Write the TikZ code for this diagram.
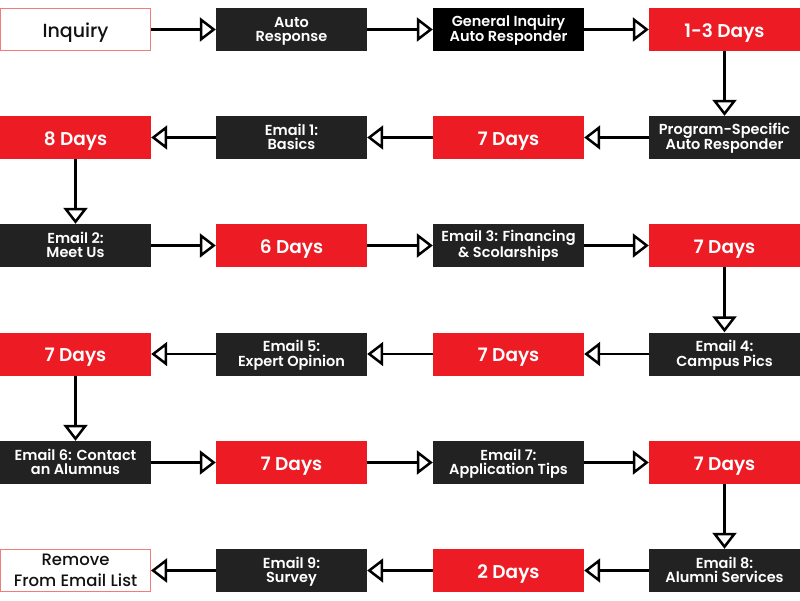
\documentclass[tikz,border=0pt]{standalone}
\usepackage{fontspec}
\setmainfont{Poppins}[BoldFont={Poppins SemiBold}]
\newfontfamily\medfont{Poppins Medium}
\usetikzlibrary{arrows.meta}
\definecolor{dk}{HTML}{222222}
\definecolor{rd}{HTML}{ED1C24}
\definecolor{pk}{HTML}{F27C7C}
\definecolor{tx}{HTML}{111111}
\begin{document}
\begin{tikzpicture}[x=1pt,y=-1pt,
  box/.style={minimum width=151pt, minimum height=43pt, inner sep=0pt, align=center, text=white,
    font=\bfseries\fontsize{14.5}{14.3}\selectfont, text height=24.4pt, text depth=0pt},
  darkbox/.style={box, fill=dk},
  blackbox/.style={box, fill=black},
  redbox/.style={box, fill=rd, font=\bfseries\fontsize{18.5}{20}\selectfont, text height=15pt},
  whitebox/.style={box, minimum width=150pt, minimum height=42pt, draw=pk, line width=1pt, fill=white, text=tx},
  flow/.style={line width=2.5pt, -{Triangle[open, length=16pt, width=24pt]}}]
\useasboundingbox (0,0) rectangle (800,600);
% row 1
\node[whitebox, font=\medfont\fontsize{19}{20}\selectfont, text height=15.8pt] (in) at (75.5,29.5) {Inquiry};
\node[darkbox] (ar) at (291.5,29.5) {Auto\\Response};
\node[blackbox] (gi) at (508.5,29.5) {General Inquiry\\Auto Responder};
\node[redbox] (d1) at (724.5,29.5) {1-3 Days};
% row 2
\node[darkbox] (ps) at (724.5,137.5) {Program-Specific\\Auto Responder};
\node[redbox] (d2) at (508.5,137.5) {7 Days};
\node[darkbox] (e1) at (291.5,137.5) {Email 1:\\Basics};
\node[redbox] (d3) at (75.5,137.5) {8 Days};
% row 3
\node[darkbox] (e2) at (75.5,245.5) {Email 2:\\Meet Us};
\node[redbox] (d4) at (291.5,245.5) {6 Days};
\node[darkbox] (e3) at (508.5,245.5) {Email 3: Financing\\\& Scolarships};
\node[redbox] (d5) at (724.5,245.5) {7 Days};
% row 4
\node[darkbox] (e4) at (724.5,354) {Email 4:\\Campus Pics};
\node[redbox] (d6) at (508.5,354) {7 Days};
\node[darkbox] (e5) at (291.5,354) {Email 5:\\Expert Opinion};
\node[redbox] (d7) at (75.5,354) {7 Days};
% row 5
\node[darkbox] (e6) at (75.5,462.5) {Email 6: Contact\\an Alumnus};
\node[redbox] (d8) at (291.5,462.5) {7 Days};
\node[darkbox] (e7) at (508.5,462.5) {Email 7:\\Application Tips};
\node[redbox] (d9) at (724.5,462.5) {7 Days};
% row 6
\node[darkbox] (e8) at (724.5,570.5) {Email 8:\\Alumni Services};
\node[redbox] (d10) at (508.5,570.5) {2 Days};
\node[darkbox] (e9) at (291.5,570.5) {Email 9:\\Survey};
\node[whitebox, font=\medfont\fontsize{16.5}{21}\selectfont, text height=31pt] (rm) at (75.5,570.5) {Remove\\From Email List};
% connectors
\draw[flow] (in) -- (ar);
\draw[flow] (ar) -- (gi);
\draw[flow] (gi) -- (d1);
\draw[flow] (d1) -- (ps);
\draw[flow] (ps) -- (d2);
\draw[flow] (d2) -- (e1);
\draw[flow] (e1) -- (d3);
\draw[flow] (d3) -- (e2);
\draw[flow] (e2) -- (d4);
\draw[flow] (d4) -- (e3);
\draw[flow] (e3) -- (d5);
\draw[flow] (d5) -- (e4);
\draw[flow] (e4) -- (d6);
\draw[flow] (d6) -- (e5);
\draw[flow] (e5) -- (d7);
\draw[flow] (d7) -- (e6);
\draw[flow] (e6) -- (d8);
\draw[flow] (d8) -- (e7);
\draw[flow] (e7) -- (d9);
\draw[flow] (d9) -- (e8);
\draw[flow] (e8) -- (d10);
\draw[flow] (d10) -- (e9);
\draw[flow] (e9) -- (rm);
\end{tikzpicture}
\end{document}
